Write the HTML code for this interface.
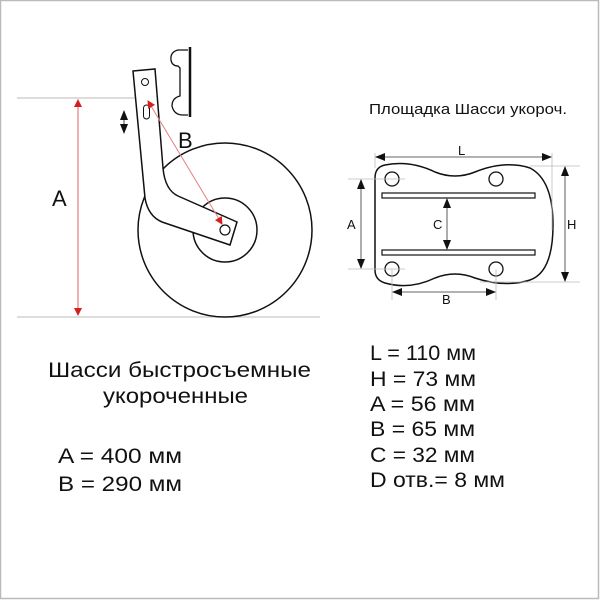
<!DOCTYPE html>
<html><head><meta charset="utf-8"><style>
html,body{margin:0;padding:0;background:#fff}
svg{display:block}
text{font-family:"Liberation Sans",sans-serif;fill:#111}
</style></head><body>
<svg width="600" height="600" viewBox="0 0 600 600" xmlns="http://www.w3.org/2000/svg">
<defs>
<marker id="ra" markerWidth="8" markerHeight="8" refX="7" refY="4" orient="auto-start-reverse" markerUnits="userSpaceOnUse"><path d="M0,0 L8,4 L0,8z" fill="#d42020"/></marker>
<marker id="ka" markerWidth="10" markerHeight="8" refX="9" refY="4" orient="auto-start-reverse" markerUnits="userSpaceOnUse"><path d="M0,0 L10,4 L0,8z" fill="#111"/></marker>
</defs>
<rect x="0.5" y="0.5" width="598" height="598" fill="#fff" stroke="#bbb" stroke-width="1.5"/>
<line x1="17" y1="98" x2="150" y2="98" stroke="#bbb" stroke-width="1"/>
<line x1="17" y1="317" x2="320" y2="317" stroke="#bbb" stroke-width="1"/>
<line x1="78" y1="100" x2="78" y2="315" stroke="#e06060" stroke-width="1" marker-start="url(#ra)" marker-end="url(#ra)"/>
<text x="52" y="206" font-size="22">A</text>
<circle cx="225" cy="230" r="87" fill="#fff" stroke="#111" stroke-width="1.5"/>
<circle cx="225" cy="230" r="32" fill="#fff" stroke="#111" stroke-width="1.5"/>
<path d="M133,71 L155,69 L163,168 Q165,190 178,196 L237,222 L230,245 L162,222 Q148,216 145,198 Z" fill="#fff" stroke="#111" stroke-width="1.5"/>
<circle cx="145" cy="82" r="3.5" fill="none" stroke="#111" stroke-width="1"/>
<rect x="143.5" y="105" width="6" height="14" rx="3" fill="none" stroke="#111" stroke-width="1"/>
<circle cx="225" cy="230" r="5" fill="none" stroke="#111" stroke-width="1.2"/>
<line x1="148" y1="101" x2="222" y2="224" stroke="#e58080" stroke-width="1" marker-start="url(#ra)" marker-end="url(#ra)"/>
<text x="178" y="148" font-size="22">B</text>
<line x1="124" y1="111" x2="124" y2="133" stroke="#111" stroke-width="0.8" marker-start="url(#ka)" marker-end="url(#ka)"/>
<path d="M190,47 L190,117" stroke="#111" stroke-width="2.5"/>
<path d="M188,50 L178,50 Q170,52 171,60 Q172,66 178,66 L180,68 L180,96 Q172,98 172,106 Q174,115 183,115 L188,115" fill="none" stroke="#111" stroke-width="1.3"/>
<text x="369" y="114" font-size="15" textLength="198" lengthAdjust="spacingAndGlyphs">Площадка Шасси укороч.</text>
<path d="M385,165 Q410,160 435,172 Q455,180 475,172 Q505,160 530,168 Q553,180 553,225 Q553,272 530,280 Q505,288 475,278 Q455,270 435,278 Q410,290 385,283 Q375,280 375,270 L375,178 Q375,167 385,165 Z" fill="#fff" stroke="#111" stroke-width="1.5"/>
<circle cx="392" cy="179" r="7" fill="none" stroke="#111" stroke-width="1.3"/>
<circle cx="496" cy="179" r="7" fill="none" stroke="#111" stroke-width="1.3"/>
<circle cx="392" cy="269" r="7" fill="none" stroke="#111" stroke-width="1.3"/>
<circle cx="496" cy="269" r="7" fill="none" stroke="#111" stroke-width="1.3"/>
<rect x="382" y="193" width="153" height="5" fill="#fff" stroke="#111" stroke-width="1.2"/>
<rect x="382" y="250" width="153" height="5" fill="#fff" stroke="#111" stroke-width="1.2"/>
<g stroke="#bbb" stroke-width="0.8">
<line x1="375" y1="153" x2="375" y2="168"/><line x1="552" y1="153" x2="552" y2="230"/>
<line x1="530" y1="166" x2="580" y2="166"/><line x1="480" y1="282" x2="580" y2="282"/>
<line x1="348" y1="179" x2="405" y2="179"/><line x1="348" y1="269" x2="405" y2="269"/>
<line x1="392" y1="269" x2="392" y2="300"/><line x1="496" y1="269" x2="496" y2="300"/>
</g>
<g stroke="#333" stroke-width="0.8">
<line x1="376" y1="157" x2="551" y2="157" marker-start="url(#ka)" marker-end="url(#ka)"/>
<line x1="565" y1="167" x2="565" y2="281" marker-start="url(#ka)" marker-end="url(#ka)"/>
<line x1="361" y1="180" x2="361" y2="268" marker-start="url(#ka)" marker-end="url(#ka)"/>
<line x1="447" y1="199" x2="447" y2="249" marker-start="url(#ka)" marker-end="url(#ka)"/>
<line x1="393" y1="292" x2="495" y2="292" marker-start="url(#ka)" marker-end="url(#ka)"/>
</g>
<text x="458" y="155" font-size="13">L</text>
<text x="567" y="229" font-size="13">H</text>
<text x="347" y="229" font-size="13">A</text>
<text x="433" y="229" font-size="13">C</text>
<text x="442" y="304" font-size="13">B</text>
<g font-size="21" lengthAdjust="spacingAndGlyphs">
<text x="48" y="377" textLength="263" lengthAdjust="spacingAndGlyphs">Шасси быстросъемные</text>
<text x="103" y="403" textLength="145" lengthAdjust="spacingAndGlyphs">укороченные</text>
<text x="58" y="463" textLength="124" lengthAdjust="spacingAndGlyphs">A = 400 мм</text>
<text x="58" y="491" textLength="124" lengthAdjust="spacingAndGlyphs">B = 290 мм</text>
<text x="370" y="360" textLength="106" lengthAdjust="spacingAndGlyphs">L  = 110 мм</text>
<text x="370" y="386" textLength="106" lengthAdjust="spacingAndGlyphs">H = 73 мм</text>
<text x="370" y="411" textLength="105" lengthAdjust="spacingAndGlyphs">A = 56 мм</text>
<text x="370" y="436" textLength="105" lengthAdjust="spacingAndGlyphs">B = 65 мм</text>
<text x="370" y="462" textLength="105" lengthAdjust="spacingAndGlyphs">C = 32 мм</text>
<text x="370" y="487" textLength="135" lengthAdjust="spacingAndGlyphs">D отв.= 8 мм</text>
</g>
</svg>
</body></html>
